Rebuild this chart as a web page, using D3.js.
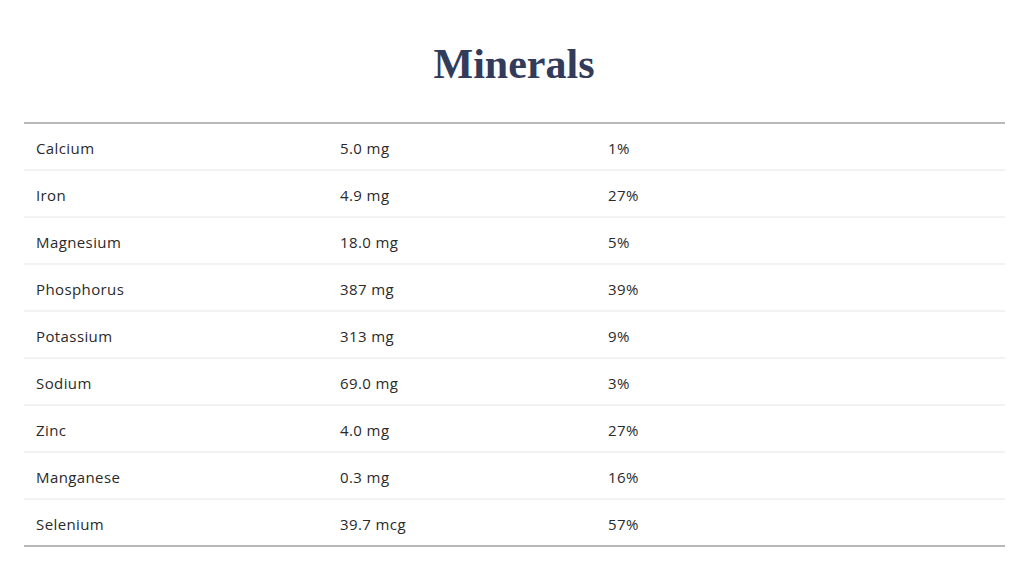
<!DOCTYPE html>
<html><head><meta charset="utf-8">
<script src="https://cdn.jsdelivr.net/npm/d3@7"></script>
<style>body{margin:0;background:#fff}</style>
</head><body>
<svg id="c" width="1030" height="586"></svg>
<script>
const minerals = ["Calcium","Iron","Magnesium","Phosphorus","Potassium","Sodium","Zinc","Manganese","Selenium"];
const amounts = ["5.0 mg","4.9 mg","18.0 mg","387 mg","313 mg","69.0 mg","4.0 mg","0.3 mg","39.7 mcg"];
const dailyValues = ["1%","27%","5%","39%","9%","3%","27%","16%","57%"];
const columns = ["name","amount","dv"];

const svg = d3.select("#c");
svg.append("text").attr("x",514).attr("y",78).attr("text-anchor","middle")
  .attr("font-family","'Liberation Serif', 'DejaVu Serif', serif").attr("font-weight","bold")
  .attr("font-size",42).attr("fill","#333b5a").text("Minerals");

const y = d3.scaleBand().domain(d3.range(minerals.length)).range([123,546]);
const x = d3.scaleOrdinal().domain(columns).range([36,340,608]);
const rows = minerals.map((m,i)=>({name:m,amount:amounts[i],dv:dailyValues[i]}));

svg.selectAll("line.sep").data(d3.range(1,minerals.length)).join("line")
  .attr("x1",24).attr("x2",1005).attr("y1",d=>y(d)).attr("y2",d=>y(d))
  .attr("stroke","#e6e6e6").attr("stroke-width",1);
svg.selectAll("line.edge").data([123,546]).join("line")
  .attr("x1",24).attr("x2",1005).attr("y1",d=>d).attr("y2",d=>d)
  .attr("stroke","#b8b8b8").attr("stroke-width",2);

const g = svg.selectAll("g.row").data(rows).join("g")
  .attr("transform",(d,i)=>`translate(0,${y(i)+y.bandwidth()/2+2.5})`);
columns.forEach(c=>{
  g.append("text").attr("x",x(c)).attr("dy","0.35em")
   .attr("font-family","'Open Sans', Lato, sans-serif").attr("font-size",15)
   .attr("fill","#2a2a2a").attr("letter-spacing","0.4").text(d=>d[c]);
});
</script>
</body></html>
